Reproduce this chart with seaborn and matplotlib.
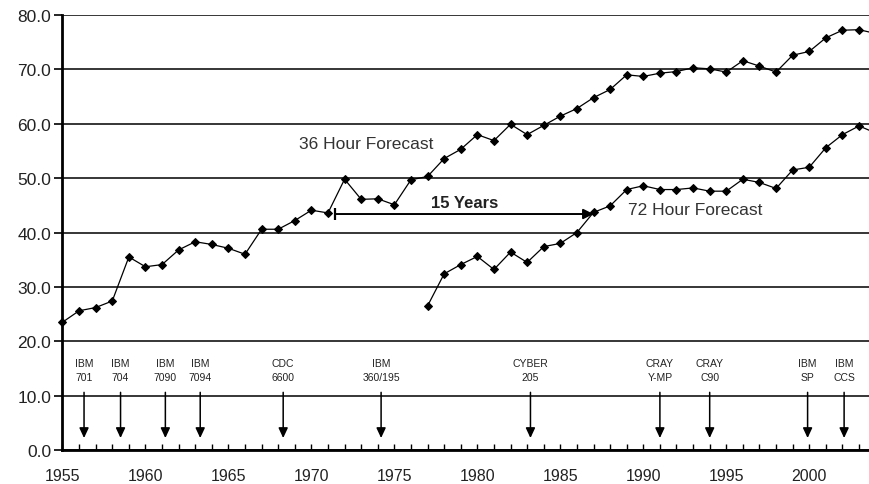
import pandas as pd
import matplotlib.pyplot as plt
import seaborn as sns

# forecast skill, 36 hour forecast (1955-2004)
years_36 = [1955, 1956, 1957, 1958, 1959, 1960, 1961, 1962, 1963, 1964,
            1965, 1966, 1967, 1968, 1969, 1970, 1971, 1972, 1973, 1974,
            1975, 1976, 1977, 1978, 1979, 1980, 1981, 1982, 1983, 1984,
            1985, 1986, 1987, 1988, 1989, 1990, 1991, 1992, 1993, 1994,
            1995, 1996, 1997, 1998, 1999, 2000, 2001, 2002, 2003, 2004]
skill_36 = [23.5, 25.6, 26.2, 27.4, 35.5, 33.7, 34.1, 36.8, 38.3, 37.8,
            37.1, 36.0, 40.6, 40.6, 42.2, 44.1, 43.6, 49.8, 46.1, 46.2,
            45.1, 49.7, 50.3, 53.6, 55.3, 58.0, 56.9, 59.9, 58.0, 59.7,
            61.4, 62.8, 64.8, 66.3, 69.0, 68.7, 69.3, 69.6, 70.3, 70.1,
            69.5, 71.6, 70.6, 69.5, 72.6, 73.3, 75.8, 77.2, 77.3, 76.6]

# 72 hour forecast (1977-2004)
years_72 = [1977, 1978, 1979, 1980, 1981, 1982, 1983, 1984, 1985, 1986,
            1987, 1988, 1989, 1990, 1991, 1992, 1993, 1994, 1995, 1996,
            1997, 1998, 1999, 2000, 2001, 2002, 2003, 2004]
skill_72 = [26.5, 32.4, 34.1, 35.6, 33.2, 36.4, 34.5, 37.4, 38.0, 40.0,
            43.7, 44.9, 47.9, 48.6, 47.9, 47.9, 48.2, 47.6, 47.6, 49.8,
            49.2, 48.1, 51.5, 52.0, 55.6, 58.0, 59.6, 58.3]

# computers installed
computer_names = ["IBM\n701", "IBM\n704", "IBM\n7090", "IBM\n7094", "CDC\n6600",
                  "IBM\n360/195", "CYBER\n205", "CRAY\nY-MP", "CRAY\nC90",
                  "IBM\nSP", "IBM\nCCS"]
computer_years = [1956.3, 1958.5, 1961.2, 1963.3, 1968.3, 1974.2,
                  1983.2, 1991.0, 1994.0, 1999.9, 2002.1]

# "15 Years" gap: from the 72 hour level reached in 1987 back to the 36 hour one
gap_start, gap_end, gap_level = 1971.45, 1987, 43.4

df = pd.concat([
    pd.DataFrame({"year": years_36, "skill": skill_36, "series": "36 Hour"}),
    pd.DataFrame({"year": years_72, "skill": skill_72, "series": "72 Hour"}),
])

sns.set_style("white")
plt.rcParams['font.family'] = ['Liberation Sans', 'DejaVu Sans']

fig = plt.figure(figsize=(8.7, 4.85), dpi=100)
ax = fig.add_axes([0.0718, 0.0701, 0.9282, 0.8969])

sns.lineplot(data=df, x="year", y="skill", units="series", estimator=None,
             color="black", linewidth=0.9, marker="D", markersize=4.5,
             markeredgecolor="black", ax=ax, legend=False)
for ln in ax.lines:
    ln.set_clip_on(False)

ax.set_xlim(1955, 2003.66)
ax.set_ylim(0, 80)
ax.set_yticks(range(0, 81, 10))
ax.set_yticklabels([f"{v:.1f}" for v in range(0, 81, 10)], fontsize=12.5, color="#222222")
ax.set_xticks(range(1955, 2004, 5))
ax.set_xticks(range(1955, 2004), minor=True)
ax.set_xticklabels([str(y) for y in range(1955, 2004, 5)], fontsize=11.5, color="#222222")
ax.tick_params(axis="x", which="both", direction="in", length=4, width=1, pad=13,
               bottom=True, color="black")
ax.tick_params(axis="y", which="major", direction="out", length=6, width=1.2,
               left=True, color="black", pad=2)
ax.grid(axis="y", color="black", linewidth=1.1)
ax.grid(axis="x", visible=False)
ax.set_xlabel("")
ax.set_ylabel("")

for side in ["top", "right"]:
    ax.spines[side].set_visible(False)
for side in ["left", "bottom"]:
    ax.spines[side].set_linewidth(2)
    ax.spines[side].set_color("black")

# series labels
ax.text(1969.25, 56.3, "36 Hour Forecast", fontsize=12.5, color="#333333", va="center")
ax.text(1989.05, 44.2, "72 Hour Forecast", fontsize=12.5, color="#333333", va="center")

# 15 years bar
ax.annotate("", xy=(gap_end, gap_level), xytext=(gap_start, gap_level),
            arrowprops=dict(arrowstyle="-|>,head_length=0.6,head_width=0.3",
                            color="black", lw=1.4, shrinkA=0, shrinkB=0))
ax.vlines(gap_start, gap_level - 1.1, gap_level + 1.1, color="black", lw=1.6)
ax.text((gap_start + gap_end) / 2, gap_level + 2.1, "15 Years", fontsize=12,
        fontweight="bold", ha="center", va="center", color="#222222")

# computer arrows
for name, yr in zip(computer_names, computer_years):
    ax.annotate("", xy=(yr, 2.2), xytext=(yr, 10.6),
                arrowprops=dict(arrowstyle="-|>,head_length=0.6,head_width=0.28",
                                color="black", lw=1.1, shrinkA=0, shrinkB=0))
    ax.text(yr, 14.7, name, fontsize=7.5, ha="center", va="center",
            linespacing=1.55, color="#222222")

fig.savefig("out.png", dpi=100)
